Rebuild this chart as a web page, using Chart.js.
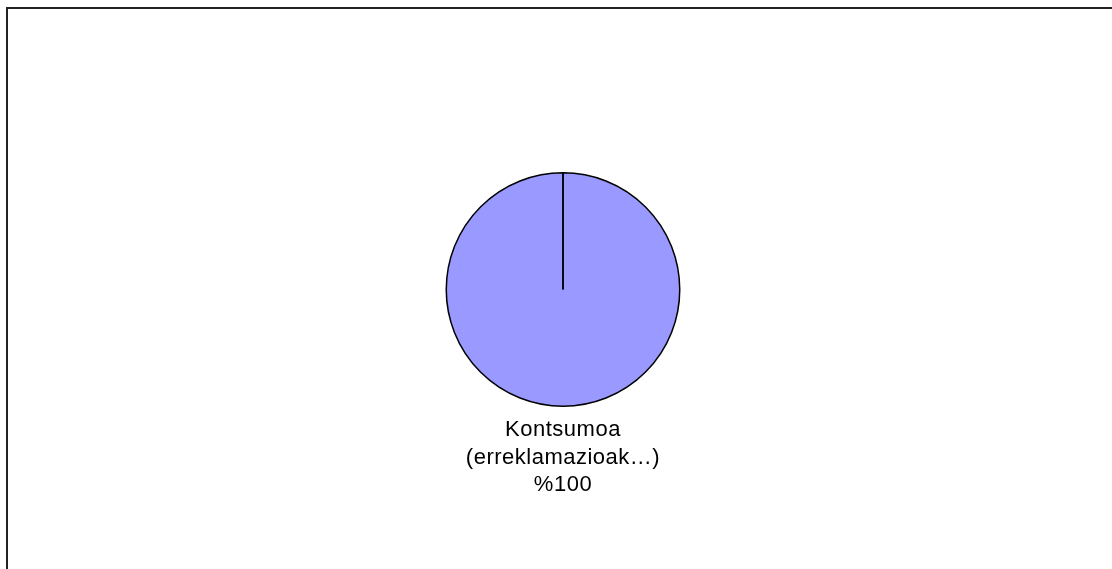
<!DOCTYPE html>
<html>
<head>
<meta charset="utf-8">
<script src="https://cdn.jsdelivr.net/npm/chart.js@4/dist/chart.umd.min.js"></script>
<style>
  html, body { margin: 0; padding: 0; background: #fff; }
  #wrap { width: 1112px; height: 569px; position: relative; }
</style>
</head>
<body>
<div id="wrap"><canvas id="canvas"></canvas></div>
<script>
const categories = ["Kontsumoa (erreklamazioak…)"];
const labelLines = [["Kontsumoa", "(erreklamazioak…)"]];
const values = [100];
const colors = ["#9999FF"];

// frame round the chart, runs off the right and bottom edge
const framePlugin = {
  id: "frame",
  beforeDraw: (chart) => {
    const ctx = chart.ctx;
    ctx.save();
    ctx.fillStyle = "#fff";
    ctx.fillRect(0, 0, chart.width, chart.height);
    ctx.strokeStyle = "#222";
    ctx.lineWidth = 2;
    ctx.strokeRect(7, 8, chart.width + 20, chart.height + 20);
    ctx.restore();
  },
};

// radial line at the start angle and the label under the pie
const sliceLabels = {
  id: "sliceLabels",
  afterDatasetsDraw: (chart) => {
    const ctx = chart.ctx;
    const meta = chart.getDatasetMeta(0);
    const total = values.reduce((a, b) => a + b, 0);
    meta.data.forEach((arc, i) => {
      const p = arc.getProps(["x", "y", "outerRadius", "startAngle"], true);
      ctx.save();
      ctx.strokeStyle = "#000";
      ctx.lineWidth = 1.5;
      ctx.beginPath();
      ctx.moveTo(p.x, p.y);
      ctx.lineTo(p.x + Math.cos(p.startAngle) * p.outerRadius, p.y + Math.sin(p.startAngle) * p.outerRadius);
      ctx.stroke();

      const lines = labelLines[i].concat(["%" + Math.round(values[i] / total * 100)]);
      ctx.fillStyle = "#000";
      ctx.font = "22px 'Liberation Sans', Arial, sans-serif";
      ctx.letterSpacing = "0.5px";
      ctx.textAlign = "center";
      ctx.textBaseline = "alphabetic";
      lines.forEach((t, j) => {
        ctx.fillText(t, p.x, p.y + p.outerRadius + 30 + j * 27.5);
      });
      ctx.restore();
    });
  },
};

const data = {
  labels: categories,
  datasets: [
    {
      data: values,
      backgroundColor: colors,
      borderColor: "#000",
      borderWidth: 1.5,
    },
  ],
};

const config = {
  type: "pie",
  data: data,
  options: {
    responsive: false,
    animation: false,
    layout: { padding: { top: 172, bottom: 162, left: 14, right: 0 } },
    plugins: {
      legend: { display: false },
      tooltip: { enabled: false },
    },
  },
  plugins: [framePlugin, sliceLabels],
};

const canvas = document.getElementById("canvas");
canvas.width = 1112;
canvas.height = 569;
const charts = new Chart(canvas, config);
</script>
</body>
</html>
